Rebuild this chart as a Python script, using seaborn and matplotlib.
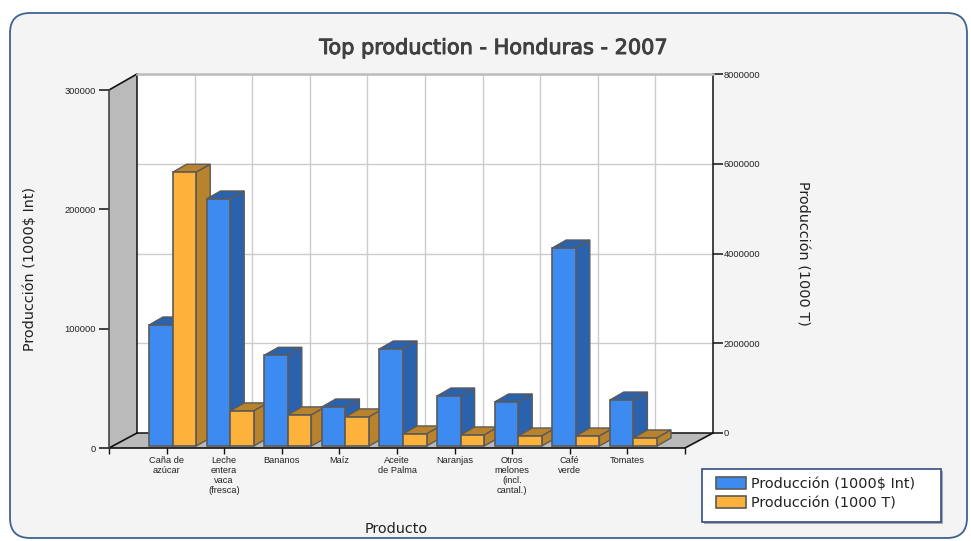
import matplotlib
matplotlib.use("Agg")
import matplotlib.pyplot as plt
import matplotlib.patheffects as pe
import numpy as np
import pandas as pd
import seaborn as sns
from matplotlib.patches import FancyBboxPatch, Polygon, Patch, Rectangle
from matplotlib.transforms import Affine2D, IdentityTransform

categories = ["Caña de\nazúcar", "Leche\nentera\nvaca\n(fresca)", "Bananos", "Maíz", "Aceite\nde Palma",
              "Naranjas", "Otros\nmelones\n(incl.\ncantal.)", "Café\nverde", "Tomates"]
valor_int = [101400, 207000, 76000, 32700, 81300, 41900, 36900, 165900, 38500]
toneladas = [6100000, 782000, 693000, 648000, 268000, 246000, 223000, 223000, 179000]
left_ticks = [0, 100000, 200000, 300000]
right_ticks = [0, 2000000, 4000000, 6000000, 8000000]
serie_a = "Producción (1000$ Int)"
serie_b = "Producción (1000 T)"
title = "Top production - Honduras - 2007"

W, H = 971, 541
BLUE, BLUE_D = "#3d8af0", "#2b62ad"
ORANGE, ORANGE_D = "#fdb23c", "#b8832c"
EDGE = "#5a5a5a"
TXT = "#222222"
SMALL = {"labelsize": 6.7, "labelfontfamily": "Liberation Sans", "labelcolor": TXT}

sns.set_style("white")
plt.rcParams["font.family"] = ["DejaVu Sans"]
fig = plt.figure(figsize=(W / 100, H / 100), dpi=100, facecolor="white")


def box(x0, top, x1, bottom):
    return [x0 / W, 1 - bottom / H, (x1 - x0) / W, (bottom - top) / H]


# page chrome and the 3D walls, in pixel space
chrome = fig.add_axes([0, 0, 1, 1], zorder=0)
chrome.set_xlim(0, W)
chrome.set_ylim(H, 0)
chrome.axis("off")
chrome.add_patch(FancyBboxPatch((10, 13), 957, 525, boxstyle="round,pad=0,rounding_size=20",
                                fc="#f4f4f4", ec="#3f6390", lw=1.3))
chrome.add_patch(Polygon([(109, 90), (137, 74), (137, 433), (109, 448)], fc="#bababa", ec="none"))
chrome.add_patch(Polygon([(109, 448), (137, 433), (713, 433), (685, 448)], fc="#bababa", ec="none"))
for seg in ([(109, 90), (137, 74)], [(109, 448), (137, 433)], [(685, 448), (713, 433)]):
    chrome.plot(*zip(*seg), color="#111111", lw=1.2, solid_capstyle="round")
chrome.plot([109, 685], [448, 448], color="#111111", lw=1.2)
chrome.add_patch(Rectangle((704, 471), 239, 53, fc="#a9a9a9", ec="none"))
chrome.add_patch(Rectangle((702, 469), 239, 53, fc="white", ec="#2f4f80", lw=1.2))

ax_back = fig.add_axes(box(137, 74, 713, 433), zorder=1, facecolor="white")
ax_front = fig.add_axes(box(109, 90, 685, 448), zorder=2, facecolor="none")

df_a = pd.DataFrame({"Producto": categories, "valor": valor_int, "serie": serie_a})
df_b = pd.DataFrame({"Producto": categories, "valor": toneladas, "serie": serie_b})
sns.barplot(data=df_a, x="Producto", y="valor", hue="serie", hue_order=[serie_a, serie_b], order=categories,
            width=0.82, dodge=True, gap=0, palette=[BLUE, ORANGE], legend=False, ax=ax_front)
sns.barplot(data=df_b, x="Producto", y="valor", hue="serie", hue_order=[serie_a, serie_b], order=categories,
            width=0.82, dodge=True, gap=0, palette=[BLUE, ORANGE], legend=False, ax=ax_back)

for a in (ax_back, ax_front):
    a.set_xlim(-1, 9)
    a.set_xlabel("")
    a.set_ylabel("")
ax_front.set_ylim(0, left_ticks[-1])
ax_back.set_ylim(0, right_ticks[-1])

# back wall: right value axis and grid
ax_back.set_xticks(range(len(categories)))
ax_back.set_xticklabels([])
ax_back.set_yticks(right_ticks)
ax_back.set_yticklabels([str(v) for v in right_ticks])
ax_back.yaxis.tick_right()
ax_back.tick_params(axis="x", length=0)
ax_back.tick_params(axis="y", length=7.2, width=1.1, color="#111111", pad=0.5, **SMALL)
ax_back.grid(True, color="#cccccc", lw=1.0)
ax_back.set_axisbelow(True)
for name, sp in ax_back.spines.items():
    sp.set_visible(True)
    sp.set_color("#111111")
    sp.set_linewidth(1.1)
ax_back.spines["top"].set_color("#bdbdbd")
ax_back.spines["top"].set_linewidth(1.8)

# front plane: left value axis and categories
ax_front.set_yticks(left_ticks)
ax_front.set_yticklabels([str(v) for v in left_ticks])
ax_front.set_xticks(np.arange(-1, len(categories) + 1))
ax_front.set_xticklabels([""] + categories + [""], linespacing=1.15)
ax_front.tick_params(axis="y", length=7.2, width=1.1, color="#111111", pad=2, left=True, **SMALL)
ax_front.tick_params(axis="x", length=4.3, width=1.0, color="#111111", pad=1.5, bottom=True, **SMALL)
for name, sp in ax_front.spines.items():
    sp.set_visible(name == "left")
ax_front.spines["left"].set_color("#444444")
ax_front.spines["left"].set_linewidth(1.2)

# bars sit a little behind the front plane; the extrusions come from each bar's own box
BAR_FROM_FRONT = Affine2D().translate(6, 2)
BAR_FROM_BACK = Affine2D().translate(-22, -13)
DX, DY = 14, 8
blue_bars = [p for p in ax_front.patches if p.get_height() > 0]
orange_bars = [p for p in ax_back.patches if p.get_height() > 0]
for p in orange_bars:
    tr = p.get_data_transform() + BAR_FROM_BACK
    p.remove()
    p.set_transform(tr)
    ax_front.add_patch(p)
for p in blue_bars:
    p.set_transform(p.get_data_transform() + BAR_FROM_FRONT)


def extrude(p, front, dark, z):
    bb = p.get_window_extent()
    x0, x1, y0, y1 = bb.x0, bb.x1, bb.y0, bb.y1
    p.set(facecolor=front, edgecolor=EDGE, linewidth=1.2, zorder=z + 0.2, clip_on=False)
    for xy in ([(x0, y1), (x1, y1), (x1 + DX, y1 + DY), (x0 + DX, y1 + DY)],
               [(x1, y0), (x1 + DX, y0 + DY), (x1 + DX, y1 + DY), (x1, y1)]):
        ax_front.add_patch(Polygon(xy, closed=True, transform=IdentityTransform(), fc=dark, ec=EDGE,
                                   lw=1.0, zorder=z, clip_on=False))


blue_bars.sort(key=lambda b: b.get_x())
orange_bars.sort(key=lambda b: b.get_window_extent().x0)
for i, (b, o) in enumerate(zip(blue_bars, orange_bars)):
    extrude(b, BLUE, BLUE_D, 5 + 2 * i)
    extrude(o, ORANGE, ORANGE_D, 6 + 2 * i)

# titles
t = fig.text(493.5 / W, 1 - 48 / H, title, ha="center", va="center", fontsize=15, color="#404040")
t.set_path_effects([pe.withStroke(linewidth=0.7, foreground="#404040")])
fig.text(30 / W, 1 - 269 / H, serie_a, rotation=90, ha="center", va="center", fontsize=10.4, color=TXT)
fig.text(802 / W, 1 - 253 / H, serie_b, rotation=270, ha="center", va="center", fontsize=10.4, color=TXT)
fig.text(396 / W, 1 - 529 / H, "Producto", ha="center", va="center", fontsize=10.4, color=TXT)

leg = ax_front.legend(handles=[Patch(fc=BLUE, ec=EDGE, lw=1.2, label=serie_a), Patch(fc=ORANGE, ec=EDGE, lw=1.2, label=serie_b)],
                      loc="upper left", bbox_to_anchor=(716 / W, 1 - 477 / H), bbox_transform=fig.transFigure,
                      borderaxespad=0, borderpad=0, frameon=False, prop={"size": 10.4}, handlelength=2.05,
                      handleheight=0.95, handletextpad=0.35, labelspacing=0.33, labelcolor=TXT)
leg.set_zorder(50)

fig.savefig("out.png", dpi=100, facecolor=fig.get_facecolor())
